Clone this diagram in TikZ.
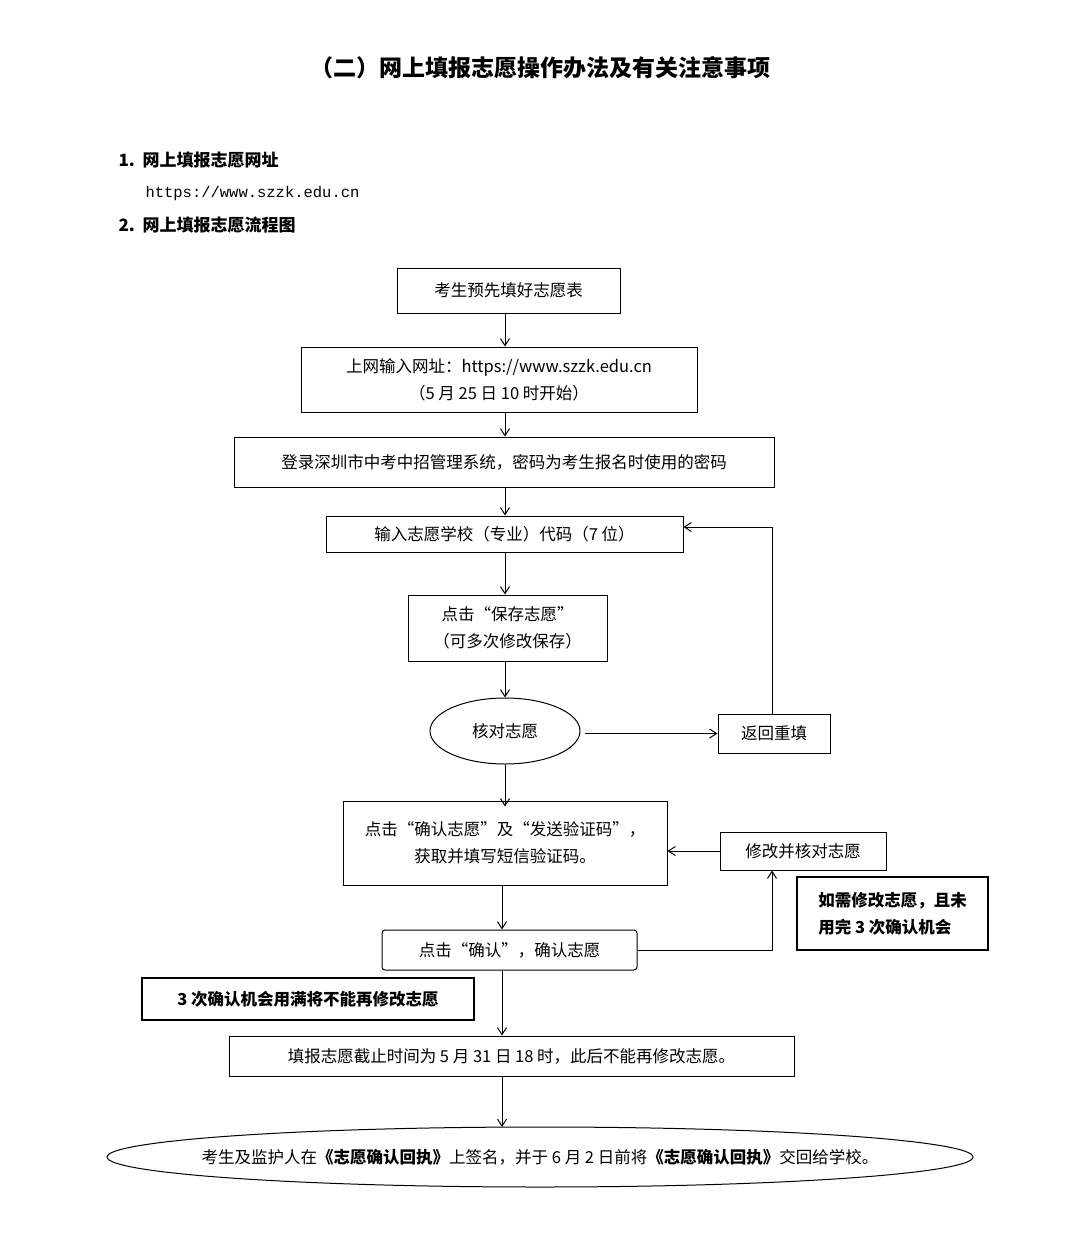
\documentclass[tikz,border=0pt]{standalone}
\usepackage{fontspec}
\setmainfont{Noto Sans CJK SC}
\setmonofont{Liberation Mono}
\usetikzlibrary{arrows.meta,shapes.geometric}
\begin{document}
\begin{tikzpicture}[x=1pt,y=-1pt,font=\fontsize{16.5}{27}\selectfont,
  bx/.style={draw,line width=1pt,align=center,inner sep=0pt},
  bb/.style={draw,line width=2pt,align=left,inner sep=0pt,font=\fontsize{16.5}{27}\selectfont\bfseries},
  ar/.style={-{Straight Barb[length=7pt,width=9pt]},line width=1pt}]
\useasboundingbox (0,0) rectangle (1080,1242);
\node[font=\fontsize{23}{28}\selectfont\bfseries] (title) at (540,68) {（二）网上填报志愿操作办法及有关注意事项};
\node[anchor=west,font=\fontsize{17}{20}\selectfont\bfseries] (h1) at (115,160) {1.\ \ 网上填报志愿网址};
\node[anchor=west,font=\fontsize{15.5}{18}\ttfamily] (url) at (142,193) {https://www.szzk.edu.cn};
\node[anchor=west,font=\fontsize{17}{20}\selectfont\bfseries] (h2) at (115,225) {2.\ \ 网上填报志愿流程图};

\node[bx,minimum width=223,minimum height=45] (b1) at (508.5,290.5) {考生预先填好志愿表};
\node[bx,minimum width=396,minimum height=65] (b2) at (499,379.5) {上网输入网址：https://www.szzk.edu.cn\\（5 月 25 日 10 时开始）};
\node[bx,minimum width=540,minimum height=50] (b3) at (504,462) {登录深圳市中考中招管理系统，密码为考生报名时使用的密码};
\node[bx,minimum width=357,minimum height=36] (b4) at (504.5,534) {输入志愿学校（专业）代码（7 位）};
\node[bx,minimum width=199,minimum height=66] (b5) at (507.5,628) {点击“保存志愿”\\（可多次修改保存）};
\node[draw,line width=1pt,ellipse,minimum width=150,minimum height=66,inner sep=0pt] (e1) at (505,731) {核对志愿};
\node[bx,minimum width=112,minimum height=39] (b7) at (774,733.5) {返回重填};
\node[bx,minimum width=324,minimum height=84] (b8) at (505,843) {点击“确认志愿”及“发送验证码”，\\获取并填写短信验证码。};
\node[bx,minimum width=166,minimum height=38] (b9) at (803,851) {修改并核对志愿};
\node[bb,minimum width=191,minimum height=73] (n1) at (892.5,913.5) {如需修改志愿，且未\\用完 3 次确认机会};
\node[bx,rounded corners=3pt,minimum width=255,minimum height=40] (b11) at (509.5,950) {点击“确认”，确认志愿};
\node[bb,minimum width=332,minimum height=42] (n2) at (308,999) {3 次确认机会用满将不能再修改志愿};
\node[bx,minimum width=565,minimum height=40] (b13) at (511.5,1056) {填报志愿截止时间为 5 月 31 日 18 时，此后不能再修改志愿。};
\node[inner sep=0pt] (e2) at (540,1157) {考生及监护人在{\bfseries《志愿确认回执》}上签名，并于 6 月 2 日前将{\bfseries《志愿确认回执》}交回给学校。};
\draw[line width=1pt] (e2.center) ellipse [x radius=433,y radius=30];
\coordinate (e2top) at (502,1127);

\draw[ar] (b1.south -| 505,0) -- (b2.north -| 505,0);
\draw[ar] (b2.south -| 505,0) -- (b3.north -| 505,0);
\draw[ar] (b3.south -| 505,0) -- (b4.north -| 505,0);
\draw[ar] (b4.south -| 505,0) -- (b5.north -| 505,0);
\draw[ar] (b5.south -| 505,0) -- (e1.north);
\draw[ar] (e1.south) -- ([yshift=-6]b8.north -| 505,0);
\draw[ar] (b8.south -| 502,0) -- (b11.north -| 502,0);
\draw[ar] (b11.south -| 502,0) -- (b13.north -| 502,0);
\draw[ar] (b13.south -| 502,0) -- (e2top);
\draw[ar] ([xshift=4]e1.east |- b7.west) -- (b7.west);
\draw[ar] (b7.north -| 772,0) -- (772,527) coordinate (c1) -- (c1 -| b4.east);
\draw[ar] (b9.west) -- (b8.east |- b9.west);
\draw[ar] (b11.east) -- (772,950) coordinate (c2) -- (c2 |- b9.south);
\end{tikzpicture}
\end{document}
